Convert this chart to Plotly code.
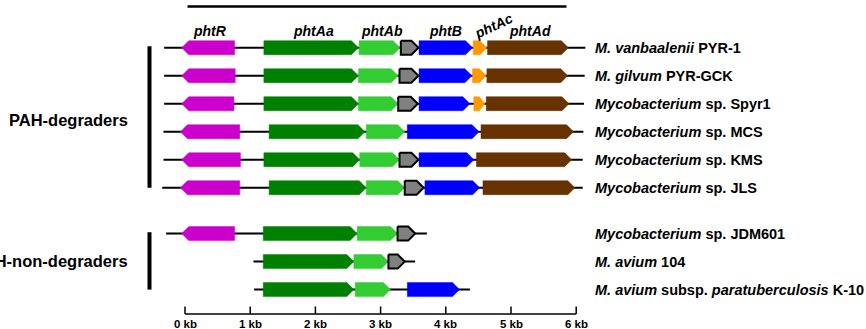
import plotly.graph_objects as go

# ---------------- data (kb) ----------------
strains = [
    "<i>M. vanbaalenii</i> PYR-1",
    "<i>M. gilvum</i> PYR-GCK",
    "<i>Mycobacterium</i> sp. Spyr1",
    "<i>Mycobacterium</i> sp. MCS",
    "<i>Mycobacterium</i> sp. KMS",
    "<i>Mycobacterium</i> sp. JLS",
    "<i>Mycobacterium</i> sp. JDM601",
    "<i>M. avium</i> 104",
    "<i>M. avium</i> subsp. <i>paratuberculosis</i> K-10",
]
groups = ["PAH-degraders", "PAH-non-degraders"]
group_of_strain = [0, 0, 0, 0, 0, 0, 1, 1, 1]

backbone_start = [-0.32, -0.32, -0.32, -0.33, -0.33, -0.35, -0.29, 1.05, 1.06]
backbone_end = [6.14, 6.13, 6.12, 6.11, 6.10, 6.10, 3.71, 3.53, 4.37]

phtR_start = [-0.05, -0.05, -0.05, -0.07, -0.05, -0.07, -0.05, None, None]
phtR_end = [0.76, 0.77, 0.75, 0.84, 0.85, 0.84, 0.76, None, None]
phtAa_start = [1.21, 1.21, 1.21, 1.29, 1.21, 1.29, 1.20, 1.20, 1.20]
phtAa_end = [2.66, 2.66, 2.66, 2.76, 2.68, 2.78, 2.64, 2.59, 2.59]
phtAb_start = [2.67, 2.66, 2.66, 2.78, 2.68, 2.78, 2.64, 2.59, 2.61]
phtAb_end = [3.30, 3.27, 3.27, 3.37, 3.29, 3.37, 3.26, 3.12, 3.15]
orf_start = [3.31, 3.29, 3.27, None, 3.29, 3.37, 3.26, 3.12, None]
orf_end = [3.58, 3.58, 3.57, None, 3.58, 3.66, 3.53, 3.37, None]
phtB_start = [3.59, 3.59, 3.59, 3.41, 3.59, 3.68, None, None, 3.41]
phtB_end = [4.41, 4.40, 4.37, 4.51, 4.43, 4.52, None, None, 4.21]
phtAc_start = [4.42, 4.41, 4.43, None, None, None, None, None, None]
phtAc_end = [4.63, 4.62, 4.60, None, None, None, None, None, None]
phtAd_start = [4.64, 4.63, 4.62, 4.54, 4.47, 4.57, None, None, None]
phtAd_end = [5.88, 5.87, 5.89, 5.96, 5.93, 5.98, None, None, None]

gene_names = ["phtR", "phtAa", "phtAb", "", "phtB", "phtAc", "phtAd"]
gene_starts = [phtR_start, phtAa_start, phtAb_start, orf_start, phtB_start, phtAc_start, phtAd_start]
gene_ends = [phtR_end, phtAa_end, phtAb_end, orf_end, phtB_end, phtAc_end, phtAd_end]
gene_strand = [-1, 1, 1, 1, 1, 1, 1]
gene_colors = ["#CC00CC", "#008000", "#33CC33", "#808080", "#0000FF", "#FF9900", "#663300"]
gene_outline = [False, False, False, True, False, False, False]

scale_ticks = [0, 1, 2, 3, 4, 5, 6]
scale_labels = ["0 kb", "1 kb", "2 kb", "3 kb", "4 kb", "5 kb", "6 kb"]

# ---------------- layout geometry ----------------
W, H = 866, 329
PX_PER_KB = 65.2
X0_PX = 185.0
ROW_PX = 28.0
ROW0_PX = 47.7
GROUP_GAP = 0.64


def kb_from_px(px):
    return (px - X0_PX) / PX_PER_KB


def row_from_px(py):
    return (py - ROW0_PX) / ROW_PX


row_y = [i + (GROUP_GAP if group_of_strain[i] == 1 else 0.0) for i in range(len(strains))]
half_h = 7.0 / ROW_PX
head_kb = 7.0 / PX_PER_KB
FONT = "Liberation Sans, Arial, Helvetica, sans-serif"

fig = go.Figure()

# backbones
for i in range(len(strains)):
    fig.add_trace(go.Scatter(
        x=[backbone_start[i], backbone_end[i]], y=[row_y[i], row_y[i]],
        mode="lines", line=dict(color="black", width=2),
        hoverinfo="skip", showlegend=False))

# genes
for g in range(len(gene_names)):
    for i in range(len(strains)):
        s, e = gene_starts[g][i], gene_ends[g][i]
        if s is None:
            continue
        y = row_y[i]
        hd = min(head_kb, 0.5 * (e - s))
        if gene_strand[g] > 0:
            xs = [s, e - hd, e, e - hd, s, s]
            ys = [y - half_h, y - half_h, y, y + half_h, y + half_h, y - half_h]
        else:
            xs = [e, s + hd, s, s + hd, e, e]
            ys = [y - half_h, y - half_h, y, y + half_h, y + half_h, y - half_h]
        if gene_outline[g]:
            line = dict(color="black", width=2)
        else:
            line = dict(color=gene_colors[g], width=0.5)
        fig.add_trace(go.Scatter(
            x=xs, y=ys, mode="lines", fill="toself",
            fillcolor=gene_colors[g], line=line,
            hoverinfo="skip", showlegend=False))

annotations = []

# gene labels above first row
lab_y = row_from_px(30.5)
for g in range(len(gene_names)):
    if not gene_names[g]:
        continue
    xc = (gene_starts[g][0] + gene_ends[g][0]) / 2
    if gene_names[g] == "phtAc":
        annotations.append(dict(x=xc + 0.2, y=row_from_px(26), text="<b><i>phtAc</i></b>",
                                showarrow=False, textangle=-25,
                                font=dict(family=FONT, size=14, color="black")))
    else:
        if gene_names[g] == "phtB":
            xc -= 0.04
        annotations.append(dict(x=xc + 0.03, y=lab_y, text="<b><i>%s</i></b>" % gene_names[g],
                                showarrow=False,
                                font=dict(family=FONT, size=14, color="black")))

# strain labels
for i in range(len(strains)):
    annotations.append(dict(x=kb_from_px(593), y=row_y[i], text="<b>%s</b>" % strains[i],
                            xanchor="left", showarrow=False,
                            font=dict(family=FONT, size=14.5, color="black")))

# group labels and bars
shapes = []
for gi, gname in enumerate(groups):
    members = [row_y[i] for i in range(len(strains)) if group_of_strain[i] == gi]
    top, bot = min(members), max(members)
    shapes.append(dict(type="line", xref="x", yref="y",
                       x0=kb_from_px(149.5), x1=kb_from_px(149.5),
                       y0=top - 0.05, y1=bot + 0.0,
                       line=dict(color="black", width=4)))
    yc = (top + bot) / 2 + (0.08 if gi == 0 else -0.04)
    annotations.append(dict(x=kb_from_px(129.5), y=yc, text="<b>%s</b>" % gname,
                            xanchor="right", showarrow=False,
                            font=dict(family=FONT, size=16.5, color="black")))

# top bracket line
shapes.append(dict(type="line", xref="x", yref="y",
                   x0=kb_from_px(187.5), x1=kb_from_px(566.5),
                   y0=row_from_px(6.5), y1=row_from_px(6.5),
                   line=dict(color="black", width=2.5)))

# scale bar
sb_y = row_from_px(314)
tick_top = row_from_px(306.5)
fig.add_trace(go.Scatter(x=[scale_ticks[0], scale_ticks[-1]], y=[sb_y, sb_y], mode="lines",
                         line=dict(color="black", width=1.5), hoverinfo="skip", showlegend=False))
for t, lab in zip(scale_ticks, scale_labels):
    fig.add_trace(go.Scatter(x=[t, t], y=[sb_y, tick_top], mode="lines",
                             line=dict(color="black", width=1.5), hoverinfo="skip", showlegend=False))
    annotations.append(dict(x=t, y=row_from_px(323.5), text="<b>%s</b>" % lab,
                            showarrow=False, font=dict(family=FONT, size=11.5, color="black")))

fig.update_layout(
    width=W, height=H,
    margin=dict(l=0, r=0, t=0, b=0),
    paper_bgcolor="white", plot_bgcolor="white",
    xaxis=dict(range=[kb_from_px(0), kb_from_px(W)], visible=False, fixedrange=True),
    yaxis=dict(range=[row_from_px(H), row_from_px(0)], visible=False, fixedrange=True),
    annotations=annotations, shapes=shapes,
    showlegend=False,
)

fig.write_html("out.html", config={"displayModeBar": False, "staticPlot": True},
               post_script="document.body.style.margin='0';document.body.style.overflow='hidden';")
